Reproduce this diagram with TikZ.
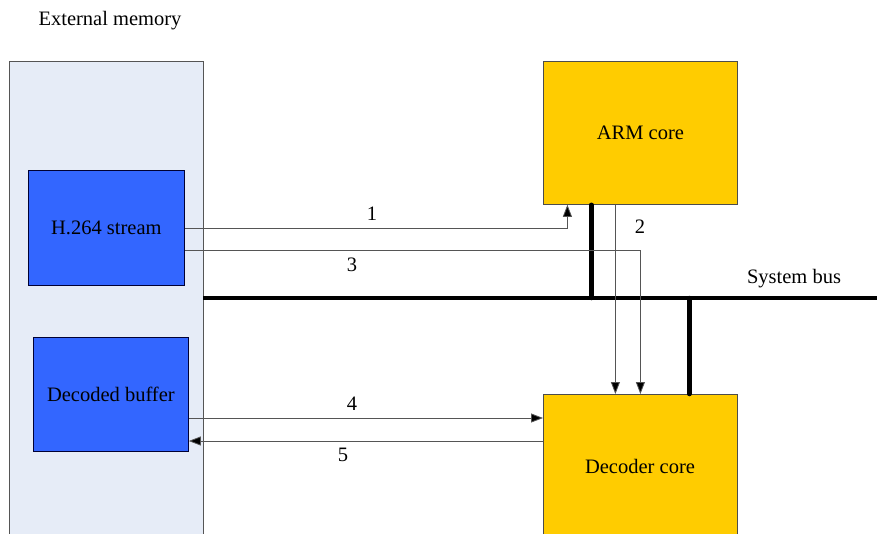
\documentclass[tikz,border=0pt]{standalone}
\usepackage{fontspec}
\setmainfont{Liberation Serif}
\newfontfamily\diagfont{Liberation Serif}
\usetikzlibrary{arrows.meta}
\definecolor{memfill}{HTML}{E6ECF7}
\definecolor{bluefill}{HTML}{3366FF}
\definecolor{yellowfill}{HTML}{FFCC00}
\definecolor{linegrey}{HTML}{555555}
\begin{document}
\begin{tikzpicture}[x=1pt,y=-1pt,
  every node/.style={font=\diagfont\fontsize{20.5}{24}\selectfont},
  box/.style={rectangle, inner sep=0pt, anchor=north west},
  membox/.style={box, draw=linegrey, fill=memfill, line width=0.8pt},
  bluebox/.style={box, draw=black!80!blue, fill=bluefill, line width=0.8pt},
  yellowbox/.style={box, draw=black!70, fill=yellowfill, line width=0.8pt},
  conn/.style={draw=linegrey, line width=0.8pt, -{Triangle[length=12pt,width=9pt,fill=black]}},
  busline/.style={line width=4.5pt, line cap=round},
  lbl/.style={inner sep=0pt}]
\useasboundingbox (0,0) rectangle (877,533);
\clip (0,0) rectangle (877,533);
\node[lbl] (memlbl) at (110,20.5) {External memory};
\node[membox, minimum width=194pt, minimum height=520pt] (mem) at (9,61) {};
\node[bluebox, minimum width=156pt, minimum height=115pt] (h264) at (28,170) {H.264 stream};
\node[bluebox, minimum width=155pt, minimum height=114pt] (buf) at (33,337) {Decoded buffer};
\node[yellowbox, minimum width=194pt, minimum height=143pt] (arm) at (543,61) {ARM core};
\node[yellowbox, minimum width=194pt, minimum height=143pt] (dec) at (543,394) {};
\node (declbl) at (640,466) {Decoder core};
\coordinate (busL) at (203,298);
\coordinate (busR) at (880,298);
\draw[busline, line cap=butt] (busL) -- (busR);
\draw[busline] ([xshift=-49pt]arm.south) -- ([xshift=-49pt]arm.south |- busL);
\draw[busline] ([xshift=49pt]dec.north) -- ([xshift=49pt]dec.north |- busL);
\draw[conn] (h264.east) -| ([xshift=-73pt]arm.south);
\draw[conn] ([yshift=-22.5pt]h264.east) -| (dec.north);
\draw[conn] ([xshift=-25pt]arm.south) -- ([xshift=-25pt]dec.north);
\coordinate (y4) at (0,418);
\coordinate (y5) at (0,441);
\draw[conn] (buf.east |- y4) -- (dec.west |- y4);
\draw[conn] (dec.west |- y5) -- (buf.east |- y5);
\node[lbl] (l1) at (372,214) {1};
\node[lbl] (l2) at (640,227) {2};
\node[lbl] (l3) at (352,265) {3};
\node[lbl] (l4) at (352,404) {4};
\node[lbl] (l5) at (343,455) {5};
\node[lbl] (sysbus) at (794,278.5) {System bus};
\end{tikzpicture}
\end{document}
